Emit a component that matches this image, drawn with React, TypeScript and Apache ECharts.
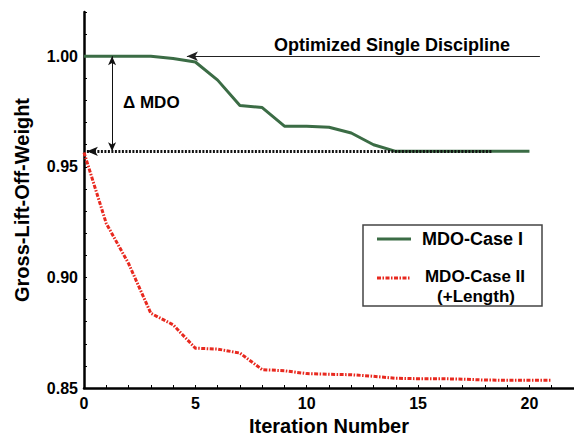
import React, { useEffect, useRef } from "react";
import * as echarts from "echarts";

// Iteration numbers
const caseIIterations = [0, 1, 2, 3, 4, 5, 6, 7, 8, 9, 10, 11, 12, 13, 14, 15, 16, 17, 18, 19, 20];
const caseIIIterations = [0, 1, 2, 3, 4, 5, 6, 7, 8, 9, 10, 11, 12, 13, 14, 15, 16, 17, 18, 19, 20, 21];

// Gross-Lift-Off-Weight (normalized)
const caseIValues = [
  1.0, 1.0, 1.0, 1.0, 0.999, 0.9974, 0.9892, 0.9777, 0.9768, 0.9684, 0.9683,
  0.9679, 0.9653, 0.96, 0.957, 0.957, 0.957, 0.957, 0.957, 0.957, 0.957,
];
const caseIIValues = [
  0.9565, 0.9244, 0.9063, 0.8838, 0.8786, 0.868, 0.8676, 0.8658, 0.8583, 0.8578,
  0.8565, 0.8562, 0.856, 0.8553, 0.8544, 0.8542, 0.8542, 0.854, 0.8536, 0.8535,
  0.8535, 0.8535,
];

const seriesNames = ["MDO-Case I", "MDO-Case II"];
const legendSubLabel = "(+Length)";
const xAxisTitle = "Iteration Number";
const yAxisTitle = "Gross-Lift-Off-Weight";
const singleDisciplineLabel = "Optimized Single Discipline";
const deltaLabel = "Δ MDO";

// Annotation reference values
const singleDisciplineLevel = 1.0;
const mdoCaseILevel = 0.957;
const singleLineStartX = 4.62;
const singleLineEndX = 20.47;
const dottedStartX = 0.13;
const dottedEndX = 18.3;
const deltaArrowX = 1.26;

const FONT = '"Liberation Sans", Arial, Helvetica, sans-serif';
const GREEN = "#3b6c45";
const RED = "#e8291f";

export default function App() {
  const ref = useRef<HTMLDivElement>(null);

  useEffect(() => {
    document.body.style.margin = "0";
    if (!ref.current) return;
    const chart = echarts.init(ref.current, null, { renderer: "svg" });

    const fmtY = (v: number) => {
      const k = Math.round(v * 100);
      return k % 5 === 0 ? (k / 100).toFixed(2) : "";
    };
    const fmtX = (v: number) => {
      const k = Math.round(v);
      return k % 5 === 0 && k <= 20 ? String(k) : "";
    };

    chart.setOption({
      animation: false,
      backgroundColor: "#ffffff",
      grid: { left: 84, right: 0, top: 12, bottom: 53, containLabel: false },
      xAxis: {
        type: "value",
        min: 0,
        max: 22,
        interval: 1,
        name: xAxisTitle,
        nameLocation: "middle",
        nameGap: 26,
        nameTextStyle: { fontFamily: FONT, fontWeight: "bold", fontSize: 20, color: "#000" },
        axisLine: { show: true, onZero: false, lineStyle: { color: "#000", width: 2.5 } },
        axisTick: { show: true, inside: true, length: 3, lineStyle: { color: "#000", width: 1 } },
        axisLabel: {
          interval: 0,
          formatter: fmtX,
          margin: 7,
          color: "#000",
          fontFamily: FONT,
          fontWeight: "bold",
          fontSize: 16,
          showMaxLabel: false,
        },
        splitLine: { show: false },
      },
      yAxis: {
        type: "value",
        min: 0.85,
        max: 1.02,
        interval: 0.01,
        name: yAxisTitle,
        nameLocation: "middle",
        nameRotate: 90,
        nameGap: 52,
        nameTextStyle: { fontFamily: FONT, fontWeight: "bold", fontSize: 20, color: "#000" },
        axisLine: { show: true, onZero: false, lineStyle: { color: "#000", width: 2.5 } },
        axisTick: { show: true, inside: true, length: 3, lineStyle: { color: "#000", width: 1 } },
        axisLabel: {
          interval: 0,
          formatter: fmtY,
          margin: 6,
          color: "#000",
          fontFamily: FONT,
          fontWeight: "bold",
          fontSize: 16,
        },
        splitLine: { show: false },
      },
      series: [
        {
          name: seriesNames[0],
          type: "line",
          data: caseIIterations.map((x, i) => [x, caseIValues[i]]),
          showSymbol: false,
          symbol: "none",
          lineStyle: { color: GREEN, width: 3 },
          itemStyle: { color: GREEN },
          z: 3,
          markLine: {
            silent: true,
            animation: false,
            label: { show: false },
            data: [
              [
                {
                  coord: [singleLineStartX, singleDisciplineLevel],
                  symbol: "arrow",
                  symbolSize: [7, 11],
                  lineStyle: { color: "#222", width: 1, type: "solid" },
                },
                { coord: [singleLineEndX, singleDisciplineLevel], symbol: "none" },
              ],
              [
                {
                  coord: [dottedStartX, mdoCaseILevel],
                  symbol: "arrow",
                  symbolSize: [7, 11],
                  lineStyle: { color: "#111", width: 3, type: [2, 1.5] },
                },
                { coord: [dottedEndX, mdoCaseILevel], symbol: "none" },
              ],
              [
                {
                  coord: [deltaArrowX, singleDisciplineLevel],
                  symbol: "arrow",
                  symbolSize: [6, 9],
                  lineStyle: { color: "#111", width: 1, type: "solid" },
                },
                { coord: [deltaArrowX, mdoCaseILevel], symbol: "arrow", symbolSize: [6, 9] },
              ],
            ],
          },
        },
        {
          name: seriesNames[1],
          type: "line",
          data: caseIIIterations.map((x, i) => [x, caseIIValues[i]]),
          showSymbol: false,
          symbol: "none",
          lineStyle: { color: RED, width: 3, type: [4, 1.5, 1.5, 1.5] },
          itemStyle: { color: RED },
          z: 4,
        },
      ],
      graphic: [
        {
          type: "text",
          left: 274,
          top: 36,
          style: {
            text: singleDisciplineLabel,
            fontFamily: FONT,
            fontWeight: "bold",
            fontSize: 18,
            fill: "#000",
          },
        },
        {
          type: "text",
          left: 123,
          top: 94,
          style: {
            text: deltaLabel,
            fontFamily: FONT,
            fontWeight: "bold",
            fontSize: 17,
            fill: "#000",
          },
        },
        {
          type: "rect",
          shape: { x: 363, y: 225, width: 179, height: 81 },
          style: { fill: "#fff", stroke: "#444", lineWidth: 1.5 },
          z: 10,
        },
        {
          type: "line",
          shape: { x1: 377, y1: 239, x2: 411, y2: 239 },
          style: { stroke: GREEN, lineWidth: 3 },
          z: 11,
        },
        {
          type: "line",
          shape: { x1: 377, y1: 278, x2: 411, y2: 278 },
          style: { stroke: RED, lineWidth: 3, lineDash: [4, 1.5, 1.5, 1.5] },
          z: 11,
        },
        {
          type: "text",
          x: 422,
          y: 239,
          z: 11,
          style: {
            text: seriesNames[0],
            fontFamily: FONT,
            fontWeight: "bold",
            fontSize: 18,
            fill: "#000",
            verticalAlign: "middle",
          },
        },
        {
          type: "text",
          x: 475,
          y: 276,
          z: 11,
          style: {
            text: seriesNames[1],
            fontFamily: FONT,
            fontWeight: "bold",
            fontSize: 17,
            fill: "#000",
            align: "center",
            verticalAlign: "middle",
          },
        },
        {
          type: "text",
          x: 476,
          y: 296,
          z: 11,
          style: {
            text: legendSubLabel,
            fontFamily: FONT,
            fontWeight: "bold",
            fontSize: 17,
            fill: "#000",
            align: "center",
            verticalAlign: "middle",
          },
        },
      ],
    });

    return () => chart.dispose();
  }, []);

  return <div ref={ref} style={{ width: 574, height: 441 }} />;
}
